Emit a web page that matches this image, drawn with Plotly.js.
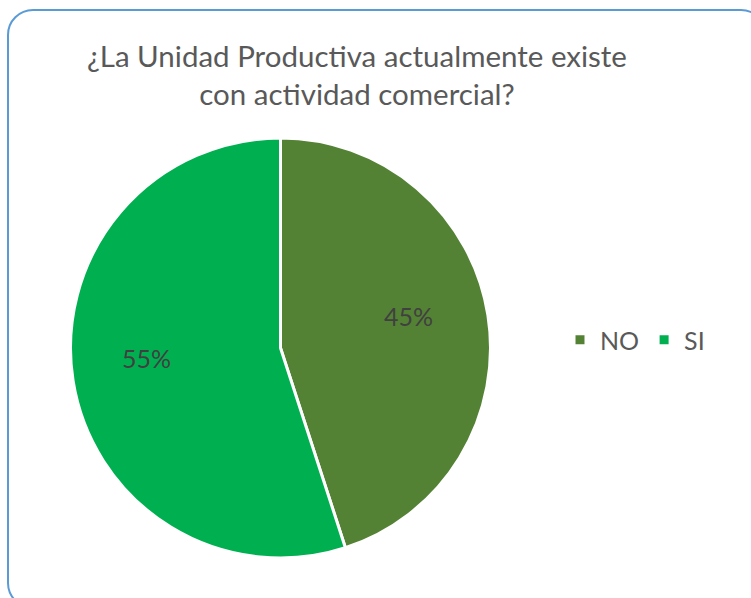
<!DOCTYPE html>
<html>
<head>
<meta charset="utf-8">
<script src="https://cdn.plot.ly/plotly-3.0.1.min.js"></script>
<style>
html,body{margin:0;padding:0;background:#fff;overflow:hidden;width:751px;height:598px;}
#frame{position:absolute;left:7px;top:9px;width:760px;height:600px;border:2px solid #5B9BD5;border-radius:26px;box-sizing:border-box;}
#chart{position:absolute;left:0;top:0;width:751px;height:598px;}
</style>
</head>
<body>
<div id="frame"></div>
<div id="chart"></div>
<script>
const categories = ["NO", "SI"];
const values = [45, 55];
const colors = ["#548235", "#00B050"];
const titleText = "¿La Unidad Productiva actualmente existe<br>con actividad comercial?";

const W = 751, H = 598;
const cx = 280.5, cy = 348, r = 210;
const FONT = "Lato, 'Open Sans', sans-serif";

const data = [{
  type: "pie",
  labels: categories,
  values: values,
  sort: false,
  direction: "clockwise",
  rotation: 0,
  marker: {colors: colors, line: {color: "#ffffff", width: 3}},
  textinfo: "none",
  hoverinfo: "none",
  domain: {x: [(cx - r) / W, (cx + r) / W], y: [1 - (cy + r) / H, 1 - (cy - r) / H]}
}];

// percentage labels placed at each slice's mid-angle (computed from the data)
const total = values.reduce((a, b) => a + b, 0);
const annotations = [];
let acc = 0;
values.forEach((v, i) => {
  const mid = (acc + v / 2) / total * 2 * Math.PI;
  acc += v;
  const rr = 0.63 * r;
  const px = cx + rr * Math.sin(mid);
  const py = cy - rr * Math.cos(mid);
  annotations.push({
    x: px / W, y: 1 - py / H, xref: "paper", yref: "paper",
    text: Math.round(v / total * 100) + "%",
    showarrow: false, xanchor: "center", yanchor: "middle",
    yshift: 11, xshift: -3,
    font: {family: FONT, size: 25, color: "#404040"}
  });
});

const layout = {
  width: W, height: H,
  margin: {l: 0, r: 0, t: 0, b: 0},
  paper_bgcolor: "rgba(0,0,0,0)",
  plot_bgcolor: "rgba(0,0,0,0)",
  font: {family: FONT, color: "#595959"},
  title: {
    text: titleText,
    x: 357 / W, xanchor: "center", xref: "paper",
    y: 1 - 67 / H, yanchor: "top", yref: "container",
    font: {family: FONT, size: 29.5, color: "#595959"}
  },
  annotations: annotations,
  showlegend: true,
  legend: {
    orientation: "h",
    x: 560 / W, xanchor: "left",
    y: 1 - 340 / H, yanchor: "middle",
    font: {family: FONT, size: 25, color: "#595959"},
    itemwidth: 30,
    traceorder: "normal",
    bgcolor: "rgba(0,0,0,0)"
  }
};

Plotly.newPlot("chart", data, layout, {displayModeBar: false, staticPlot: true});
</script>
</body>
</html>
